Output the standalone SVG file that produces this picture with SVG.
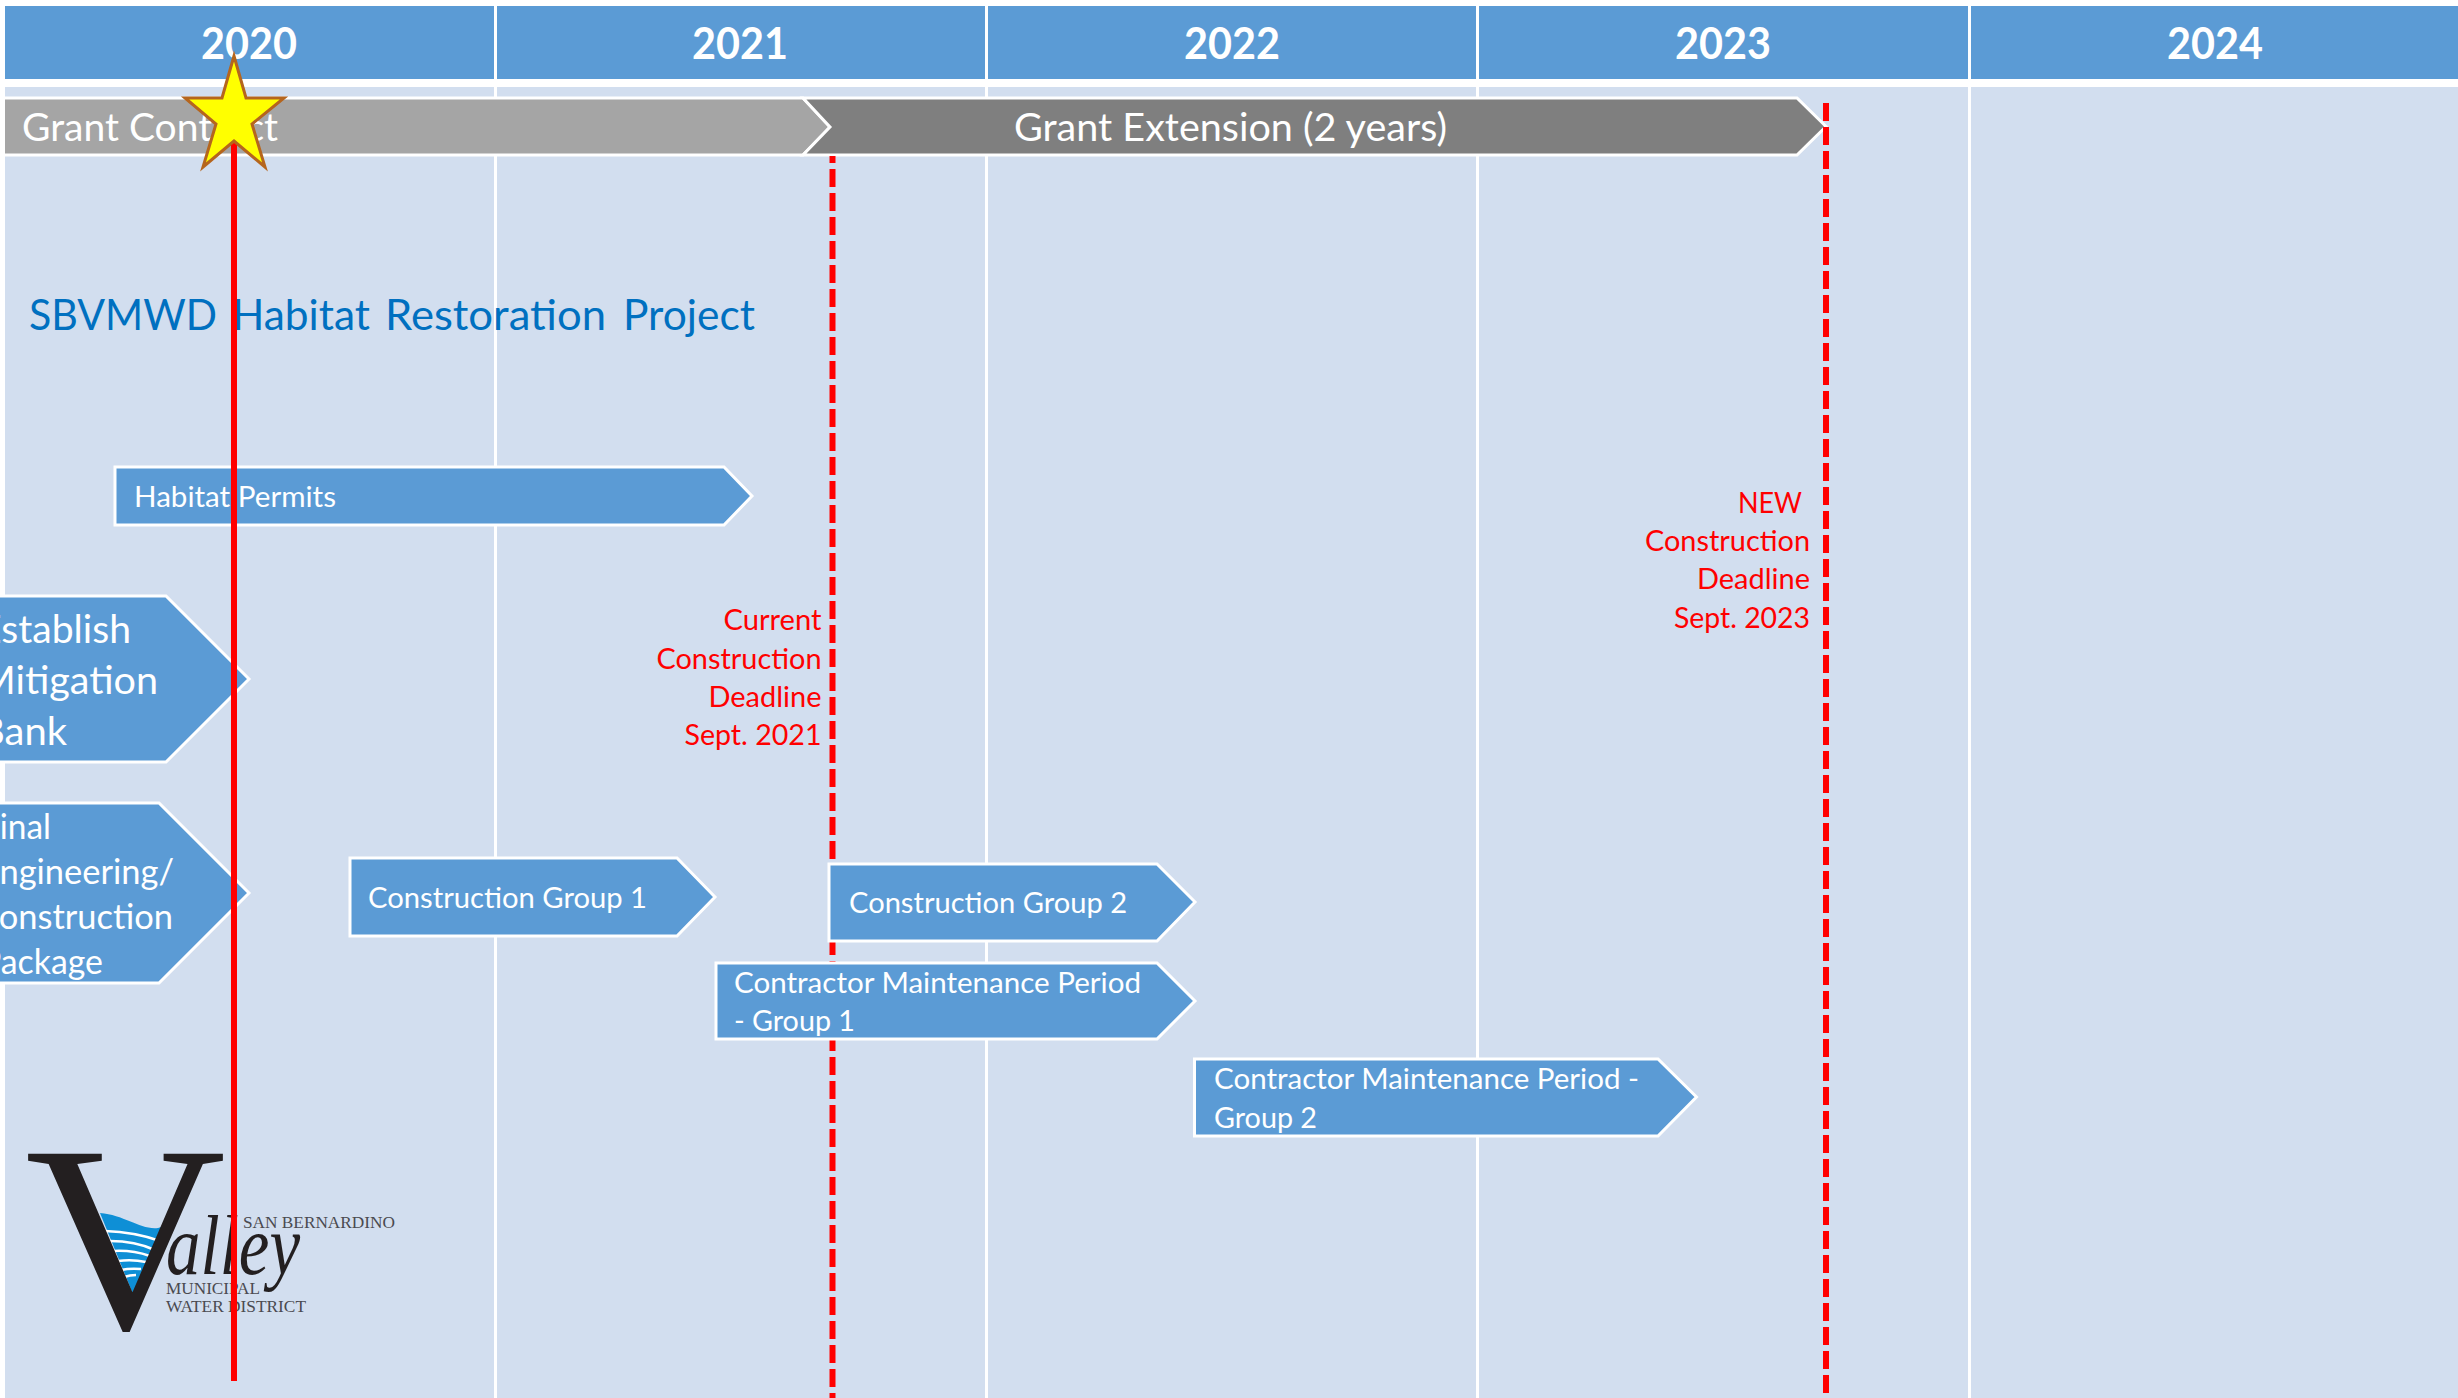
<svg xmlns="http://www.w3.org/2000/svg" width="2458" height="1398" viewBox="0 0 2458 1398">
<style>
.f{font-family:"Lato","Open Sans",sans-serif}
.w{fill:#fff}
.bar{fill:#5B9BD5;stroke:#fff;stroke-width:3}
.yr{font-family:"Lato","Open Sans",sans-serif;font-weight:700;font-size:43px;fill:#fff;text-anchor:middle}
.red{font-family:"Lato","Open Sans",sans-serif;font-size:28px;fill:#f00;text-anchor:end}
.s{font-family:"Lato","Open Sans",sans-serif;font-size:28px;fill:#fff}
.b{font-family:"Lato","Open Sans",sans-serif;font-size:39px;fill:#fff}
.m{font-family:"Liberation Serif",serif;fill:#4a4a50}
.k{font-family:"Liberation Serif",serif;fill:#231F20}
</style>
<rect width="2458" height="1398" fill="#fff"/>
<g id="timeline">
<rect x="5" y="87" width="2453" height="1311" fill="#D2DEEF"/>
<rect x="5" y="6" width="2453" height="73" fill="#5B9BD5"/>
<path d="M495.500 6V1398M986.500 6V1398M1477.500 6V1398M1969.500 6V1398" stroke="#fff" stroke-width="3" fill="none"/>
<text class="yr" x="249" y="59" textLength="96" lengthAdjust="spacingAndGlyphs">2020</text>
<text class="yr" x="740" y="59" textLength="96" lengthAdjust="spacingAndGlyphs">2021</text>
<text class="yr" x="1232" y="59" textLength="96" lengthAdjust="spacingAndGlyphs">2022</text>
<text class="yr" x="1723" y="59" textLength="96" lengthAdjust="spacingAndGlyphs">2023</text>
<text class="yr" x="2215" y="59" textLength="96" lengthAdjust="spacingAndGlyphs">2024</text>
</g>
<g id="grant-contract">
<polygon points="3.500,98 803,98 830,127 803,155 3.500,155" fill="#A5A5A5" stroke="#fff" stroke-width="3"/>
<text class="f w" x="22" y="141" font-size="38" textLength="256" lengthAdjust="spacingAndGlyphs">Grant Contract</text>
</g>
<g id="grant-extension">
<polygon points="803,98 1797,98 1826,126.500 1797,155 803,155 830,127" fill="#7F7F7F" stroke="#fff" stroke-width="3"/>
<text class="f w" x="1014" y="141" font-size="38" textLength="433" lengthAdjust="spacingAndGlyphs">Grant Extension (2 years)</text>
</g>
<g id="title">
<text class="f" y="330" font-size="43" fill="#0070C0"><tspan x="29" textLength="188" lengthAdjust="spacingAndGlyphs">SBVMWD</tspan> <tspan x="232" textLength="138" lengthAdjust="spacingAndGlyphs">Habitat</tspan> <tspan x="385" textLength="221" lengthAdjust="spacingAndGlyphs">Restoration</tspan> <tspan x="623" textLength="132" lengthAdjust="spacingAndGlyphs">Project</tspan></text>
</g>
<g id="habitat-permits">
<polygon class="bar" points="115,467 724,467 752,496 724,525 115,525"/>
<text class="s" x="134" y="507" textLength="202" lengthAdjust="spacingAndGlyphs">Habitat Permits</text>
</g>
<g id="mitigation-bank">
<polygon class="bar" points="-40,596 166,596 249,679 166,762 -40,762"/>
<text class="b" x="-21" y="643" textLength="152" lengthAdjust="spacingAndGlyphs">Establish</text>
<text class="b" x="-21" y="694" textLength="179" lengthAdjust="spacingAndGlyphs">Mitigation</text>
<text class="b" x="-21" y="745" textLength="88" lengthAdjust="spacingAndGlyphs">Bank</text>
</g>
<g id="final-engineering">
<polygon class="bar" points="-40,803 159,803 249,893 159,983 -40,983"/>
<text class="f w" x="-19" y="839" font-size="34" textLength="70" lengthAdjust="spacingAndGlyphs">Final</text>
<text class="f w" x="-20" y="884" font-size="34" textLength="194" lengthAdjust="spacingAndGlyphs">Engineering/</text>
<text class="f w" x="-24" y="929" font-size="34" textLength="197" lengthAdjust="spacingAndGlyphs">Construction</text>
<text class="f w" x="-19" y="974" font-size="34" textLength="122" lengthAdjust="spacingAndGlyphs">Package</text>
</g>
<g id="logo">
<path d="M100,1213C125,1215 140,1230 158,1228L167,1225L135,1299Z" fill="#0E8FD6"/>
<path d="M105,1231Q135,1232 160,1241M110,1241Q135,1241 155,1250M114,1251Q132,1250 150,1256M118,1261Q132,1259 146,1262M121,1270Q130,1268 141,1269M124,1277Q130,1275 136,1275" stroke="#fff" stroke-width="2.500" fill="none"/>
<text class="k" x="25" y="1328" font-size="266" textLength="201" lengthAdjust="spacingAndGlyphs">V</text>
<text class="k" x="166" y="1274" font-size="85" font-style="italic" textLength="134" lengthAdjust="spacingAndGlyphs">alley</text>
<text class="m" x="243" y="1228" font-size="17" textLength="152" lengthAdjust="spacingAndGlyphs">SAN BERNARDINO</text>
<text class="m" x="166" y="1294" font-size="17" textLength="94" lengthAdjust="spacingAndGlyphs">MUNICIPAL</text>
<text class="m" x="166" y="1312" font-size="17" textLength="140" lengthAdjust="spacingAndGlyphs">WATER DISTRICT</text>
</g>
<g id="connectors" fill="none" stroke="#f00" stroke-width="6">
<path d="M234,140V1381"/>
<path d="M832.500,156V1398" stroke-dasharray="18 6" stroke-dashoffset="11"/>
<path d="M1826,103V1398" stroke-dasharray="18 6"/>
</g>
<g id="current-deadline">
<text class="red" x="821.500" y="630" textLength="98" lengthAdjust="spacingAndGlyphs">Current</text>
<text class="red" x="821.500" y="669" textLength="165" lengthAdjust="spacingAndGlyphs">Construction</text>
<text class="red" x="821.500" y="707" textLength="113" lengthAdjust="spacingAndGlyphs">Deadline</text>
<text class="red" x="821.500" y="745" textLength="137" lengthAdjust="spacingAndGlyphs">Sept. 2021</text>
</g>
<g id="new-deadline">
<text class="red" x="1802" y="513" textLength="64" lengthAdjust="spacingAndGlyphs">NEW</text>
<text class="red" x="1810" y="551" textLength="165" lengthAdjust="spacingAndGlyphs">Construction</text>
<text class="red" x="1810" y="589" textLength="113" lengthAdjust="spacingAndGlyphs">Deadline</text>
<text class="red" x="1810" y="628" textLength="136" lengthAdjust="spacingAndGlyphs">Sept. 2023</text>
</g>
<g id="construction-group-1">
<polygon class="bar" points="350,858 677,858 715,897 677,936 350,936"/>
<text class="s" x="368" y="908" textLength="279" lengthAdjust="spacingAndGlyphs">Construction Group 1</text>
</g>
<g id="construction-group-2">
<polygon class="bar" points="829,864 1157,864 1195,902 1157,941 829,941"/>
<text class="s" x="849" y="913" textLength="278" lengthAdjust="spacingAndGlyphs">Construction Group 2</text>
</g>
<g id="maintenance-group-1">
<polygon class="bar" points="716,963 1157,963 1195,1001 1157,1039 716,1039"/>
<text class="s" x="734" y="993" textLength="407" lengthAdjust="spacingAndGlyphs">Contractor Maintenance Period</text>
<text class="s" x="734" y="1031" textLength="121" lengthAdjust="spacingAndGlyphs">- Group 1</text>
</g>
<g id="maintenance-group-2">
<polygon class="bar" points="1194.500,1059 1658,1059 1696.500,1097 1658,1136 1194.500,1136"/>
<text class="s" x="1214" y="1089" textLength="425" lengthAdjust="spacingAndGlyphs">Contractor Maintenance Period -</text>
<text class="s" x="1214" y="1128" textLength="103" lengthAdjust="spacingAndGlyphs">Group 2</text>
</g>
<g id="start-star">
<polygon points="234,56 246,98 284,98 252,124 265,167 234,141 203,167 216,124 185,98 222,98" fill="#FFFF00" stroke="#B5651D" stroke-width="3"/>
</g>
</svg>
